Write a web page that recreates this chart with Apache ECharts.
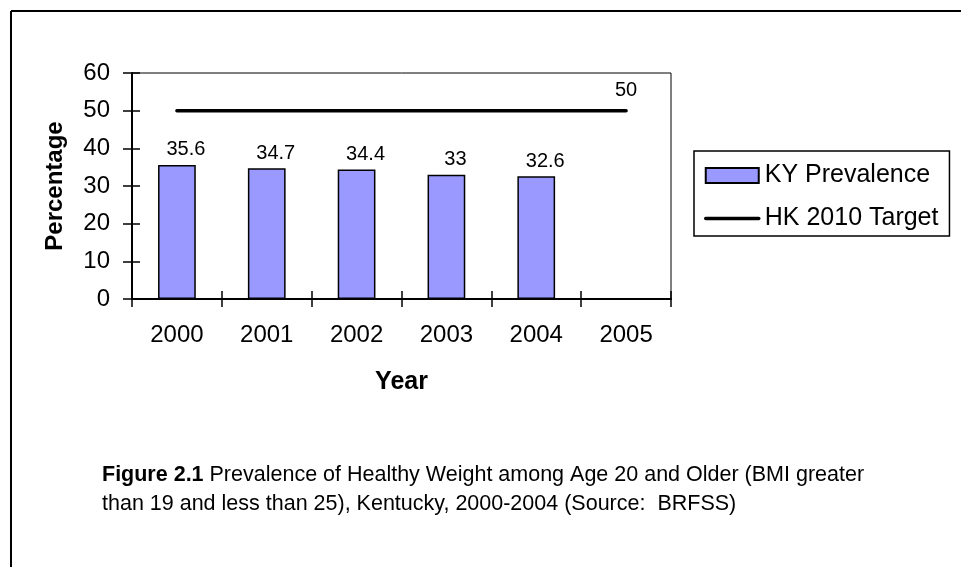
<!DOCTYPE html>
<html>
<head>
<meta charset="utf-8">
<script src="https://cdn.jsdelivr.net/npm/echarts@6/dist/echarts.min.js"></script>
<style>
html,body{margin:0;padding:0;background:#fff;}
#chart{width:961px;height:567px;}
</style>
</head>
<body>
<div id="chart"></div>
<script>
const years = ['2000', '2001', '2002', '2003', '2004', '2005'];
const kyPrevalence = [35.6, 34.7, 34.4, 33, 32.6, null];
const hkTarget = [50, 50, 50, 50, 50, 50];
const yTicks = [0, 10, 20, 30, 40, 50, 60];

const FONT = '"Liberation Sans", Arial, sans-serif';
const chart = echarts.init(document.getElementById('chart'), null, {renderer: 'canvas'});
const lastIdx = hkTarget.length - 1;

const option = {
  backgroundColor: '#ffffff',
  animation: false,
  textStyle: {fontFamily: FONT, color: '#000'},
  grid: {left: 132, top: 73, right: 290, bottom: 268, show: true, borderColor: '#000', borderWidth: 1, containLabel: false},
  legend: {
    orient: 'vertical',
    left: 694, top: 151,
    padding: [12, 11, 5, 10],
    borderColor: '#000', borderWidth: 1.5,
    itemWidth: 53, itemHeight: 15, itemGap: 18,
    textStyle: {fontSize: 25, fontFamily: FONT, color: '#000', padding: [0, 0, 0, 1]},
    data: [
      {name: 'KY Prevalence', icon: 'rect'},
      {name: 'HK 2010 Target', itemStyle: {opacity: 0}, lineStyle: {width: 3.5}}
    ]
  },
  xAxis: [{
    type: 'category', data: years, boundaryGap: true,
    axisLine: {lineStyle: {color: '#000', width: 2}},
    axisTick: {show: true, inside: false, length: 8, lineStyle: {color: '#000', width: 1.5}},
    axisLabel: {fontSize: 24, color: '#000', margin: 24, fontFamily: FONT},
    name: 'Year', nameLocation: 'middle', nameGap: 71,
    nameTextStyle: {fontSize: 25, fontWeight: 'bold', color: '#000', fontFamily: FONT}
  }, {
    type: 'category', data: years, boundaryGap: true, position: 'bottom',
    axisLine: {show: false},
    axisTick: {show: true, inside: true, length: 8, lineStyle: {color: '#000', width: 1.5}},
    axisLabel: {show: false}
  }],
  yAxis: [{
    type: 'value', min: yTicks[0], max: yTicks[yTicks.length - 1], interval: 10,
    splitLine: {show: false},
    axisLine: {show: true, lineStyle: {color: '#000', width: 2}},
    axisTick: {show: true, inside: false, length: 9, lineStyle: {color: '#000', width: 1.5}},
    axisLabel: {fontSize: 24, color: '#000', margin: 22, fontFamily: FONT},
    name: 'Percentage', nameLocation: 'middle', nameGap: 65,
    nameTextStyle: {fontSize: 24, fontWeight: 'bold', color: '#000', fontFamily: FONT}
  }, {
    type: 'value', min: yTicks[0], max: yTicks[yTicks.length - 1], interval: 10, position: 'left',
    splitLine: {show: false},
    axisLine: {show: false},
    axisTick: {show: true, inside: true, length: 8, lineStyle: {color: '#000', width: 1.5}},
    axisLabel: {show: false}
  }],
  series: [{
    name: 'KY Prevalence', type: 'bar', data: kyPrevalence,
    barWidth: '42%',
    itemStyle: {color: '#9999FF', borderColor: '#000', borderWidth: 1.5},
    label: {show: true, position: 'top', distance: 5, offset: [9, 0], fontSize: 20, color: '#000', fontFamily: FONT}
  }, {
    name: 'HK 2010 Target', type: 'line', data: hkTarget,
    symbol: 'circle', symbolSize: 0, showSymbol: true,
    lineStyle: {color: '#000', width: 3.5, cap: 'round'},
    itemStyle: {color: '#000'},
    label: {
      show: true, position: 'top', distance: 10, fontSize: 20, color: '#000', fontFamily: FONT,
      formatter: p => p.dataIndex === lastIdx ? String(p.value) : ''
    }
  }],
  graphic: [
    {type: 'line', shape: {x1: 11, y1: 11, x2: 961, y2: 11}, style: {stroke: '#000', lineWidth: 2}},
    {type: 'line', shape: {x1: 11, y1: 11, x2: 11, y2: 567}, style: {stroke: '#000', lineWidth: 2}},
    {
      type: 'text', left: 102, top: 461,
      style: {
        text: '{b|Figure 2.1} Prevalence of Healthy Weight among Age 20 and Older (BMI greater\nthan 19 and less than 25), Kentucky, 2000-2004 (Source:  BRFSS)',
        fontSize: 21.5, fontFamily: FONT, fill: '#000', lineHeight: 28.5,
        rich: {b: {fontWeight: 'bold', fontSize: 21.5, fontFamily: FONT, lineHeight: 28.5}}
      }
    }
  ]
};
chart.setOption(option);
</script>
</body>
</html>
